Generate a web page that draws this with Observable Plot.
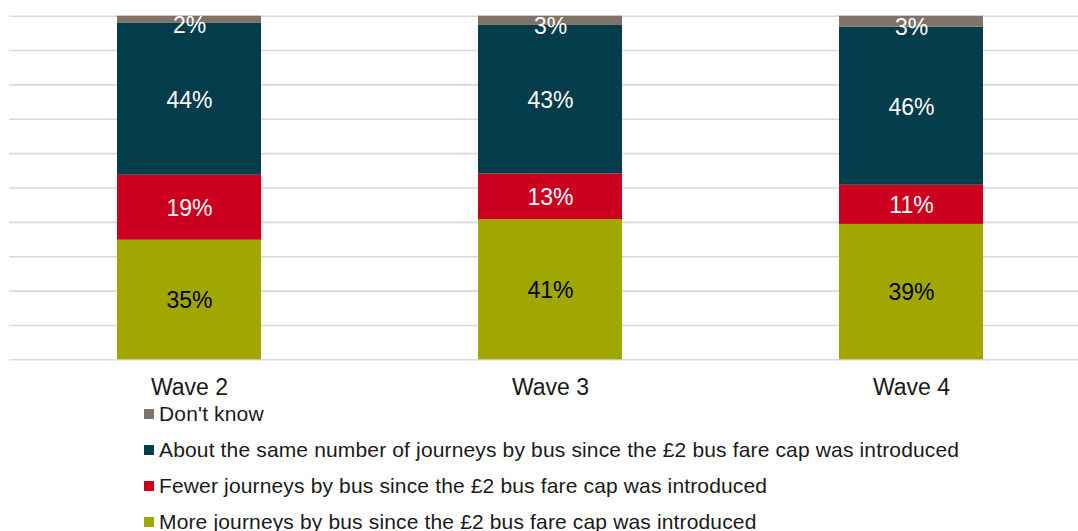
<!DOCTYPE html>
<html>
<head>
<meta charset="utf-8">
<script src="https://cdn.jsdelivr.net/npm/d3@7"></script>
<script src="https://cdn.jsdelivr.net/npm/@observablehq/plot@0.6"></script>
<style>
  html, body { margin: 0; padding: 0; background: #fff; }
  body { font-family: "Liberation Sans", Arial, sans-serif; width: 1078px; height: 531px; overflow: hidden; }
  #legend { margin-top: -14px; padding-left: 144px; position: relative; }
  .row { display: flex; align-items: center; height: 36px; font-size: 21px; letter-spacing: 0.15px; color: #1a1a1a; white-space: nowrap; }
  .sw { width: 10px; height: 10px; margin-right: 5px; flex: none; }
</style>
</head>
<body>
<div id="chart"></div>
<div id="legend"></div>
<script>
const waves = ["Wave 2", "Wave 3", "Wave 4"];
const categories = [
  "More journeys by bus since the £2 bus fare cap was introduced",
  "Fewer journeys by bus since the £2 bus fare cap was introduced",
  "About the same number of journeys by bus since the £2 bus fare cap was introduced",
  "Don't know"
];
const colors = ["#9fa700", "#cc001e", "#033c4b", "#807468"];
const labelColors = ["#000000", "#ffffff", "#ffffff", "#ffffff"];
// values per category (bottom to top), one per wave
const moreValues  = [34.8, 40.8, 39.4];
const fewerValues = [18.9, 13.3, 11.4];
const sameValues  = [44.2, 43.2, 46.0];
const dkValues    = [2.1, 2.7, 3.2];
const gridTicks = [0, 10, 20, 30, 40, 50, 60, 70, 80, 90, 100];

const series = [moreValues, fewerValues, sameValues, dkValues];
const data = [];
waves.forEach((w, i) => {
  categories.forEach((c, j) => {
    data.push({wave: w, cat: c, ci: j, value: series[j][i]});
  });
});

const fmt = d => Math.round(d.value) + "%";

const plot = Plot.plot({
  width: 1078,
  height: 410,
  marginTop: 15.7,
  marginBottom: 50.7,
  marginLeft: 9,
  marginRight: 0,
  style: {fontFamily: '"Liberation Sans", Arial, sans-serif', background: "transparent"},
  x: {domain: waves, range: [9, 1092], paddingInner: 0.6, paddingOuter: 0.3, label: null},
  y: {domain: [0, 100], axis: null},
  color: {domain: categories, range: colors},
  marks: [
    Plot.ruleY(gridTicks, {stroke: "#d9d9d9", strokeWidth: 1.6}),
    Plot.barY(data, Plot.stackY({x: "wave", y: "value", z: "cat", fill: "cat", inset: 0})),
    Plot.text(data, Plot.stackY({
      x: "wave", y: "value", z: "cat",
      text: d => d.ci === 3 ? "" : fmt(d),
      fill: d => labelColors[d.ci],
      fontSize: 23, dy: 1
    })),
    Plot.text(data, Plot.stackY({
      x: "wave", y: "value", z: "cat",
      text: d => d.ci === 3 ? fmt(d) : "",
      fill: d => labelColors[d.ci],
      fontSize: 23, dy: 6
    })),
    Plot.axisX({tickSize: 0, tickPadding: 19, fontSize: 23, color: "#1a1a1a", label: null})
  ]
});
document.getElementById("chart").appendChild(plot);

const legend = document.getElementById("legend");
const legendOrder = [3, 2, 1, 0];
legendOrder.forEach(j => {
  const row = document.createElement("div");
  row.className = "row";
  const sw = document.createElement("span");
  sw.className = "sw";
  sw.style.background = colors[j];
  const t = document.createElement("span");
  t.textContent = categories[j];
  row.appendChild(sw);
  row.appendChild(t);
  legend.appendChild(row);
});
</script>
</body>
</html>
